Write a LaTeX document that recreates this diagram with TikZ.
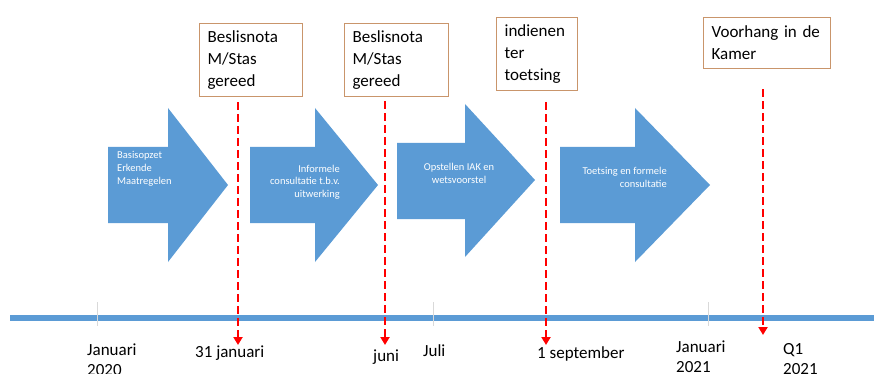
\documentclass[tikz,border=0pt]{standalone}
\usepackage{fontspec}
\setmainfont{Carlito}
\usetikzlibrary{arrows.meta, positioning}
\definecolor{phaseblue}{HTML}{5B9BD5}
\definecolor{notebrown}{HTML}{C9956B}
\definecolor{deadlinered}{HTML}{FF0000}

\begin{document}
\begin{tikzpicture}[
    x=1pt, y=-1pt,
    note/.style={draw=notebrown, line width=1.2pt, fill=white, anchor=north west, inner xsep=8pt, inner ysep=0pt, align=left, font=\fontsize{17}{22}\selectfont},
    phase/.style={fill=phaseblue},
    phasetext/.style={text=white, inner sep=0pt, anchor=base west, align=left, font=\fontsize{10.5}{12.5}\selectfont},
    datum/.style={inner sep=0pt, anchor=base west, align=left, font=\fontsize{17}{20}\selectfont},
    deadline/.style={draw=deadlinered, line width=2.8pt, dash pattern=on 8pt off 4pt, -{Triangle[width=9pt,length=8pt]}},
    monthtick/.style={draw=black!15, line width=0.8pt}
]
\useasboundingbox (0,0) rectangle (874,374);

% timeline
\draw[line width=6pt, phaseblue] (10,318) -- (874,318);
\foreach \x in {97,433,708}
    \draw[monthtick] (\x,302) -- (\x,326);

% phases
\fill[phase] (108,147) -- (168,147) -- (168,108) -- (228,185) -- (168,262) -- (168,223) -- (108,223) -- cycle;
\fill[phase] (250,147) -- (315,147) -- (315,108) -- (378,185) -- (315,262) -- (315,223) -- (250,223) -- cycle;
\fill[phase] (397,143) -- (465,143) -- (465,104) -- (535,180) -- (465,257) -- (465,219) -- (397,219) -- cycle;
\fill[phase] (560,147) -- (635,147) -- (635,108) -- (710,185) -- (635,262) -- (635,223) -- (560,223) -- cycle;

% base = last line
\node[phasetext] (p1) at (117,184) {Basisopzet\\Erkende\\Maatregelen};
\node[phasetext, anchor=base east, align=right] (p2) at (340,197) {Informele\\consultatie t.b.v.\\uitwerking};
\node[phasetext, anchor=base, align=center] (p3) at (459,183) {Opstellen IAK en\\wetsvoorstel};
\node[phasetext, anchor=base east, align=right] (p4) at (667,187) {Toetsing en formele\\consultatie};

% notes
\node[note, minimum width=103pt, minimum height=73pt, text width=87pt] (n1) at (199,23) {Beslisnota\\M/Stas\\gereed};
\node[note, minimum width=104pt, minimum height=73pt, text width=88pt] (n2) at (344,23) {Beslisnota\\M/Stas\\gereed};
\node[note, minimum width=81pt, minimum height=73pt, text width=65pt] (n3) at (496,17) {indienen\\ter\\toetsing};
\node[note, minimum width=127pt, minimum height=51pt, text width=111pt] (n4) at (703,17) {Voorhang in de\\Kamer};

% deadlines
\coordinate (d1) at (238,345);
\coordinate (d2) at (385,345);
\coordinate (d3) at (546,345);
\coordinate (d4) at (763,335);
\draw[deadline, shorten <=5pt] (n1.south -| d1) -- (d1);
\draw[deadline, shorten <=4pt] (n2.south -| d2) -- (d2);
\draw[deadline, shorten <=11pt] (n3.south -| d3) -- (d3);
\draw[deadline, shorten <=20pt] (n4.south -| d4) -- (d4);

% dates
\node[datum] (jan20) at (87,375) {Januari\\2020};
\node[datum] (jan31) at (195,357) {31 januari};
\node[datum] (jun) at (373,361) {juni};
\node[datum] (jul) at (423,356) {Juli};
\node[datum] (sep1) at (537,358) {1 september};
\node[datum] (jan21) at (676,372) {Januari\\2021};
\node[datum] (q1) at (783,374) {Q1\\2021};
\end{tikzpicture}
\end{document}
